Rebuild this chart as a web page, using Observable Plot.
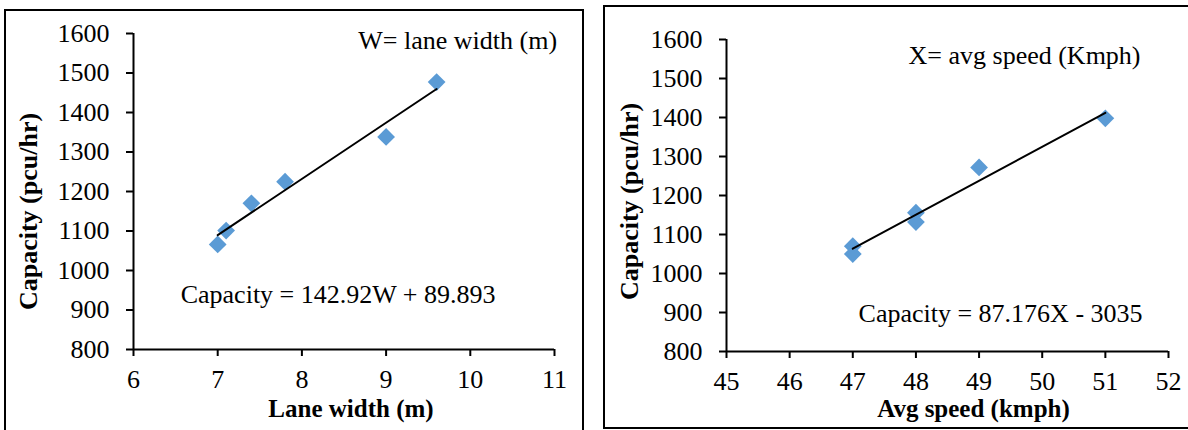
<!DOCTYPE html>
<html>
<head>
<meta charset="utf-8">
<script src="https://cdn.jsdelivr.net/npm/d3@7"></script>
<script src="https://cdn.jsdelivr.net/npm/@observablehq/plot@0.6"></script>
<style>
  html, body { margin: 0; padding: 0; background: #fff; }
  body { width: 1188px; height: 430px; position: relative; overflow: hidden; font-family: "Liberation Serif", "Times New Roman", serif; }
  .panel { position: absolute; border: 2px solid #000; box-sizing: border-box; }
  #p1 { left: 4px; top: 9px; width: 580px; height: 440px; }
  #p2 { left: 603px; top: 5px; width: 600px; height: 424px; }
  .chart { position: absolute; top: 0; }
  #c1 { left: 0; }
  #c2 { left: 590px; }
  svg, svg g, svg text { font-family: "Liberation Serif", "Times New Roman", serif !important; font-variant: normal !important; }
</style>
</head>
<body>
<div class="panel" id="p1"></div>
<div class="panel" id="p2"></div>
<div class="chart" id="c1"></div>
<div class="chart" id="c2"></div>
<script>
// Left chart: capacity vs lane width
const laneWidth = [7.0, 7.1, 7.4, 7.8, 9.0, 9.6];
const capacityW = [1066, 1101, 1170, 1225, 1338, 1477];
// Right chart: capacity vs average speed
const avgSpeed = [47, 47, 48, 48, 49, 51];
const capacityX = [1070, 1050, 1156, 1132, 1272, 1398];

const yTicks = [800, 900, 1000, 1100, 1200, 1300, 1400, 1500, 1600];
const xTicksW = [6, 7, 8, 9, 10, 11];
const xTicksX = [45, 46, 47, 48, 49, 50, 51, 52];

const labelsW = {
  yTitle: "Capacity (pcu/hr)",
  xTitle: "Lane width (m)",
  note: "W= lane width (m)",
  eq: "Capacity = 142.92W + 89.893"
};
const labelsX = {
  yTitle: "Capacity (pcu/hr)",
  xTitle: "Avg speed (kmph)",
  note: "X= avg speed (Kmph)",
  eq: "Capacity = 87.176X - 3035"
};

const blue = "#5B9BD5";
const serif = "'Liberation Serif', 'Times New Roman', serif";
const font = {fontFamily: serif, fontSize: "26px", color: "#000", background: "transparent", overflow: "visible"};
const fmt = d => String(d);

function makeChart(xs, ys, xTicks, labels, opt) {
  const data = xs.map((x, i) => ({x, y: ys[i]}));
  const xd = [xTicks[0], xTicks[xTicks.length - 1]];
  return Plot.plot({
    width: opt.width,
    height: 430,
    marginLeft: opt.ml,
    marginRight: opt.mr,
    marginTop: opt.mt,
    marginBottom: opt.mb,
    style: font,
    x: {domain: xd},
    y: {domain: [800, 1600]},
    marks: [
      Plot.axisY({ticks: yTicks, tickFormat: fmt, tickSize: 7, tickPadding: 17, strokeWidth: 2, label: null, fontSize: 26, fontFamily: serif, fill: "#000"}),
      Plot.axisX({ticks: xTicks, tickFormat: fmt, tickSize: 7, tickPadding: 13, strokeWidth: 2, label: null, fontSize: 26, fontFamily: serif, fill: "#000"}),
      Plot.ruleX([xd[0]], {stroke: "#000", strokeWidth: 2}),
      Plot.ruleY([800], {stroke: "#000", strokeWidth: 2}),
      Plot.dot(data, {x: "x", y: "y", symbol: "diamond2", r: 8, fill: blue, stroke: null}),
      Plot.linearRegressionY(data, {x: "x", y: "y", stroke: "#000", strokeWidth: 2, ci: 0}),
      Plot.text([labels.note], {x: opt.note[0], y: opt.note[1], fontSize: 26, fontFamily: serif, fill: "#000"}),
      Plot.text([labels.eq], {x: opt.eq[0], y: opt.eq[1], fontSize: 26, fontFamily: serif, fill: "#000"}),
      Plot.text([labels.xTitle], {frameAnchor: "bottom", lineAnchor: "middle", textAnchor: "middle", dx: opt.xt[0], dy: opt.xt[1], fontSize: 25, fontFamily: serif, fontWeight: "bold", fill: "#000"}),
      Plot.text([labels.yTitle], {frameAnchor: "left", lineAnchor: "middle", textAnchor: "middle", dx: opt.yt[0], dy: opt.yt[1], rotate: -90, fontSize: 26, fontFamily: serif, fontWeight: "bold", fill: "#000"})
    ]
  });
}

document.getElementById("c1").append(makeChart(laneWidth, capacityW, xTicksW, labelsW, {
  width: 590, ml: 133, mr: 36, mt: 33, mb: 81,
  note: [9.85, 1582], eq: [8.43, 939],
  xt: [7, 59], yt: [-105, 20]
}));
document.getElementById("c2").append(makeChart(avgSpeed, capacityX, xTicksX, labelsX, {
  width: 598, ml: 136, mr: 20, mt: 39, mb: 79,
  note: [49.72, 1559], eq: [49.34, 897],
  xt: [26, 57], yt: [-97, 6]
}));
</script>
</body>
</html>
